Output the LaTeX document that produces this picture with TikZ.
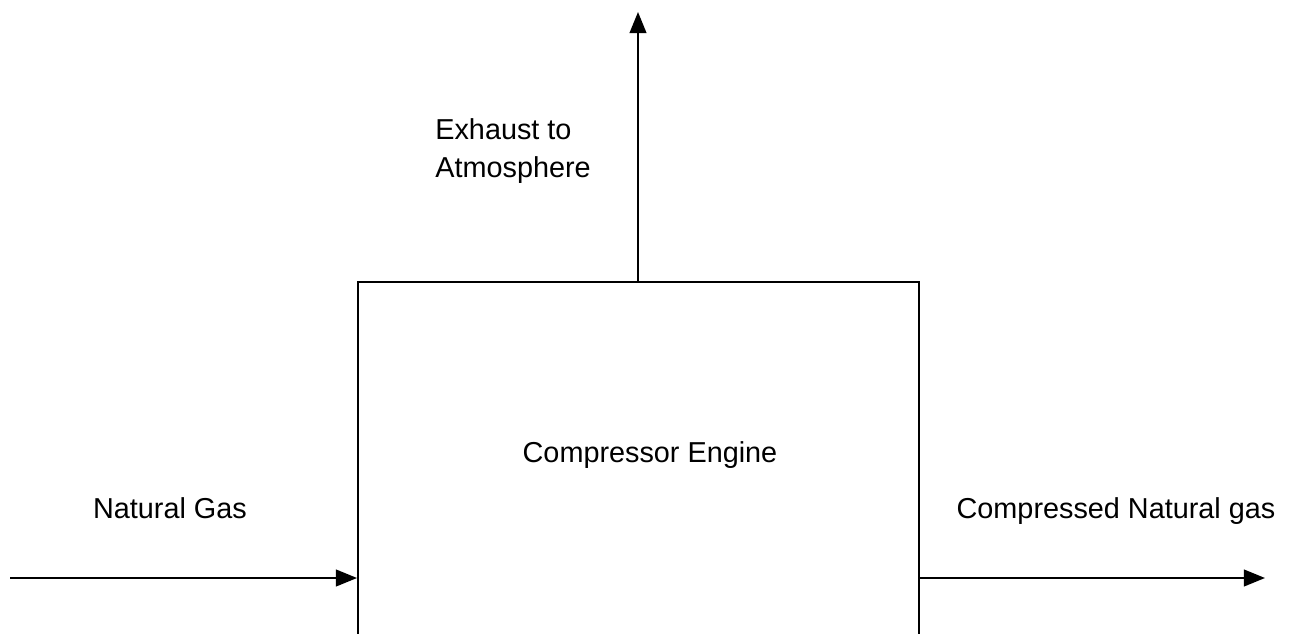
\documentclass[tikz,border=0pt]{standalone}
\usepackage{fontspec}
\setmainfont{Liberation Sans}
\usetikzlibrary{arrows.meta}
\tikzset{
  flow/.style={draw,line width=1.1pt,-{Triangle[length=12pt,width=9.5pt]}},
  lbl/.style={font=\fontsize{16.4}{22}\selectfont,inner sep=0pt}
}

\begin{document}
\begin{tikzpicture}[x=0.02cm,y=-0.02cm]
  \useasboundingbox (0,0) rectangle (1293,634);
  % engine box, its foot runs off the page
  \node (engine) [draw,line width=1.1pt,minimum width=561*0.02cm,minimum height=400*0.02cm,anchor=north,inner sep=0pt] at (638.5,281) {};
  \node (enginetxt) [lbl,anchor=base] at (650,462) {Compressor Engine};
  % streams
  \coordinate (gasin) at (10,578);
  \coordinate (gasout) at (1265,578);
  \coordinate (exhout) at (638,12);
  \draw[flow] (gasin) -- (gasin -| engine.west);
  \draw[flow] (gasout -| engine.east) -- (gasout);
  \draw[flow] (exhout |- engine.north) -- (exhout);
  % labels
  \node (gaslbl) [lbl,anchor=base] at (170,518) {Natural Gas};
  \node (cnglbl) [lbl,anchor=base] at (1116,518) {Compressed Natural gas};
  \node (exhlbl) [lbl,anchor=base west,align=left] at (435,178) {Exhaust to\\Atmosphere};
\end{tikzpicture}
\end{document}
